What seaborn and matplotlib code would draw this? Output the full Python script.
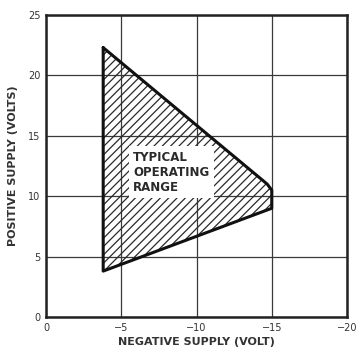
import matplotlib
matplotlib.use("Agg")
import matplotlib.pyplot as plt
import seaborn as sns
import pandas as pd

# Data
neg_supply = [-3.8, -14.7, -15.0, -15.0, -3.8]
pos_supply = [22.3, 11.0, 10.5, 9.0, 3.8]
x_ticks = [0, -5, -10, -15, -20]
x_tick_labels = ["0", "\u22125", "\u221210", "\u221215", "\u221220"]
y_ticks = [0, 5, 10, 15, 20, 25]
y_tick_labels = ["0", "5", "10", "15", "20", "25"]
region_label = "TYPICAL\nOPERATING\nRANGE"

sns.set_style("white")
plt.rcParams["font.family"] = ["DejaVu Sans"]
plt.rcParams["hatch.linewidth"] = 0.9

fig = plt.figure(figsize=(3.58, 3.51), dpi=100)
ax = fig.add_axes([46/358, 1-317/351, 301/358, 302/351])

ax.set_xlim(0, -20)
ax.set_ylim(0, 25)
ax.set_xticks(x_ticks)
ax.set_xticklabels(x_tick_labels)
ax.set_yticks(y_ticks)
ax.set_yticklabels(y_tick_labels)
ax.grid(True, color="#3a3a3a", linewidth=0.9)
ax.set_axisbelow(True)

# hatched region
ax.fill(neg_supply, pos_supply, facecolor="none", edgecolor="#2a2a2a",
        hatch="////", linewidth=0, zorder=2)

df = pd.DataFrame({"x": neg_supply + [neg_supply[0]], "y": pos_supply + [pos_supply[0]]})
sns.lineplot(data=df, x="x", y="y", sort=False, estimator=None, color="#111111",
             linewidth=2.2, ax=ax, zorder=4)

ax.text(-5.8, 12.0, region_label, ha="left", va="center", fontsize=8.5,
        fontweight="bold", color="#2a2a2a", linespacing=1.2, zorder=5,
        bbox=dict(facecolor="white", edgecolor="none", pad=3))

for s in ax.spines.values():
    s.set_linewidth(1.8)
    s.set_color("#222222")

ax.tick_params(axis="both", length=0, labelsize=7, colors="#333333", pad=4)
ax.set_xlabel("NEGATIVE SUPPLY (VOLT)", fontsize=8, fontweight="bold",
              color="#333333", labelpad=3)
ax.set_ylabel("POSITIVE SUPPLY (VOLTS)", fontsize=8, fontweight="bold",
              color="#333333", labelpad=7)

fig.savefig("out.png", dpi=100)
